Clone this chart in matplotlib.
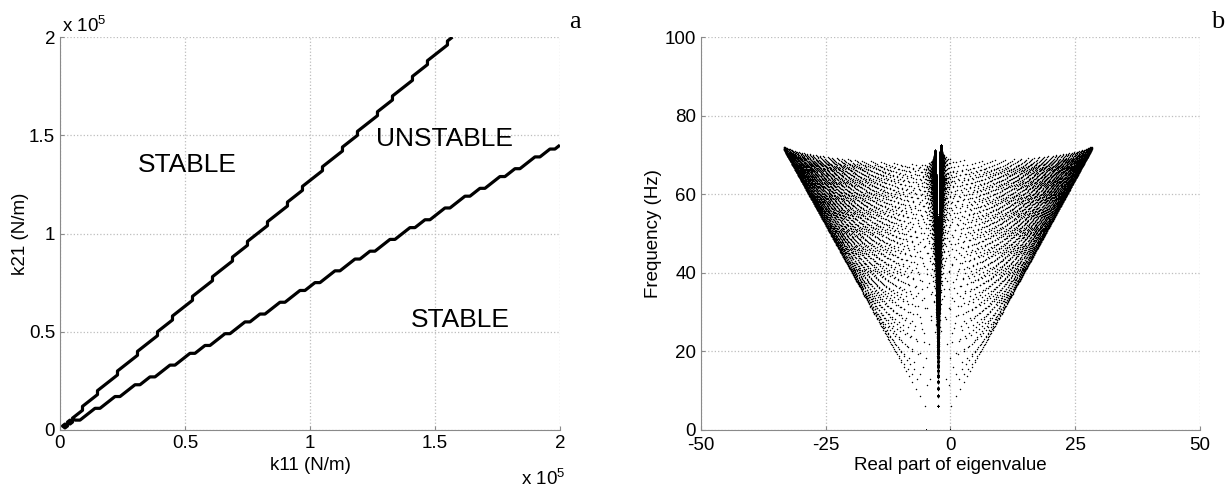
import numpy as np
import matplotlib
matplotlib.use('Agg')
import matplotlib.pyplot as plt

plt.rcParams['font.family'] = ['Liberation Sans', 'DejaVu Sans']
plt.rcParams['mathtext.fontset'] = 'custom'
plt.rcParams['mathtext.rm'] = 'Liberation Sans'
plt.rcParams['axes.unicode_minus'] = False

# stiffness sweep (N/m): coarse map for the stability boundary, finer one for the eigenvalues
k_map = np.linspace(0, 2e5, 101)
k_eig = np.linspace(0, 2e5, 141)
mass = 1.0            # kg
c0 = 5.0              # N s/m, base damping on both dofs
beta1 = 0.6e-5        # stiffness part of damping on dof 1 (s)
beta2 = -0.5e-5       # stiffness part of damping on dof 2 (s)
coupling = 0.0198     # k12 = -coupling * k11
k22_ratio = 1.0405    # k22 = k22_ratio * k21

ticks_a = [0, 0.5, 1, 1.5, 2]
ticks_b_x = [-50, -25, 0, 25, 50]
ticks_b_y = [0, 20, 40, 60, 80, 100]


def eigenvalues(k11, k21):
    k22 = k22_ratio * k21
    A = np.zeros((k11.size, 4, 4))
    A[:, 0, 2] = 1.0
    A[:, 1, 3] = 1.0
    A[:, 2, 0] = -k11 / mass
    A[:, 2, 1] = coupling * k11 / mass
    A[:, 3, 0] = -k21 / mass
    A[:, 3, 1] = -k22 / mass
    A[:, 2, 2] = -(c0 + beta1 * k11) / mass
    A[:, 3, 3] = -(c0 + beta2 * k22) / mass
    return np.linalg.eigvals(A)


K11, K21 = np.meshgrid(k_map, k_map)
eig_map = eigenvalues(K11.ravel(), K21.ravel())
max_real = eig_map.real.max(axis=1).reshape(K11.shape)
unstable = (max_real > 1e-6).astype(float)

E11, E21 = np.meshgrid(k_eig, k_eig)
lam = eigenvalues(E11.ravel(), E21.ravel()).ravel()
lam = lam[lam.imag >= -1e-9]
freq = lam.imag / (2 * np.pi)


def style(ax):
    ax.grid(True, linestyle=':', color='#bdbdbd', linewidth=0.9)
    for s in ['top', 'right']:
        ax.spines[s].set_visible(False)
    for s in ['left', 'bottom']:
        ax.spines[s].set_color('#8a8a8a')
    ax.tick_params(direction='in', length=3, color='#8a8a8a', labelsize=13.5)


fig = plt.figure(figsize=(12.32, 4.88), dpi=100)
ax1 = fig.add_axes([0.0487, 0.119, 0.4058, 0.805])
ax2 = fig.add_axes([0.569, 0.119, 0.405, 0.805])

# stability map
ax1.contour(K11 / 1e5, K21 / 1e5, unstable, levels=[0.5], colors='k', linewidths=2.3)
ax1.set_xlim(0, 2)
ax1.set_ylim(0, 2)
ax1.set_xticks(ticks_a)
ax1.set_yticks(ticks_a)
ax1.set_xticklabels(['%g' % t for t in ticks_a])
ax1.set_yticklabels(['%g' % t for t in ticks_a])
style(ax1)
ax1.set_xlabel('k11 (N/m)', fontsize=13.5, labelpad=4)
ax1.set_ylabel('k21 (N/m)', fontsize=13.5, labelpad=0)
ax1.text(0.005, 1.0127, r'x 10$^5$', transform=ax1.transAxes, fontsize=13.5, ha='left', va='baseline')
ax1.text(1.01, -0.15, r'x 10$^5$', transform=ax1.transAxes, fontsize=13.5, ha='right', va='bottom')
ax1.text(0.51, 1.35, 'STABLE', fontsize=19, ha='center', va='center')
ax1.text(1.54, 1.48, 'UNSTABLE', fontsize=19, ha='center', va='center')
ax1.text(1.6, 0.56, 'STABLE', fontsize=19, ha='center', va='center')

# eigenvalue cloud
ax2.plot(lam.real, freq, 'k.', markersize=2.1, markeredgewidth=0)
ax2.set_xlim(-50, 50)
ax2.set_ylim(0, 100)
ax2.set_xticks(ticks_b_x)
ax2.set_yticks(ticks_b_y)
style(ax2)
ax2.tick_params(axis='x', pad=5)
ax2.set_xlabel('Real part of eigenvalue', fontsize=13.5, labelpad=2)
ax2.set_ylabel('Frequency (Hz)', fontsize=13.5, labelpad=2)

fig.text(0.467, 0.955, 'a', family='Liberation Serif', fontsize=19, ha='center', va='center')
fig.text(0.988, 0.955, 'b', family='Liberation Serif', fontsize=19, ha='center', va='center')

fig.savefig('out.png', dpi=100)
